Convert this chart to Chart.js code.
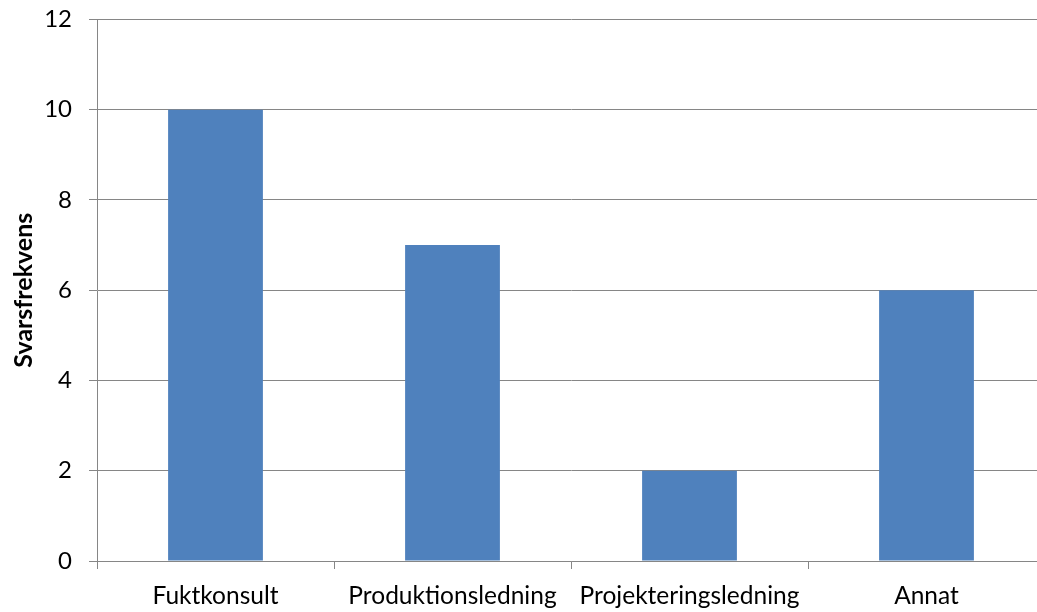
<!DOCTYPE html>
<html><head><meta charset="utf-8">
<script src="https://cdn.jsdelivr.net/npm/chart.js@4/dist/chart.umd.min.js"></script>
<style>
html,body{margin:0;padding:0;background:#fff;overflow:hidden;}
#wrap{width:1045px;height:624px;position:absolute;left:0;top:-12px;}
</style></head>
<body>
<div id="wrap"><canvas id="c"></canvas></div>
<script>
const categories = ["Fuktkonsult", "Produktionsledning", "Projekteringsledning", "Annat"];
const values = [10, 7, 2, 6];
const yTitle = "Svarsfrekvens";

const FONT = "Lato, 'Open Sans', sans-serif";
const GRID = "#868686";

new Chart(document.getElementById('c'), {
  type: 'bar',
  data: {
    labels: categories,
    datasets: [{
      data: values,
      backgroundColor: '#4F81BD',
      borderWidth: 0,
      barPercentage: 0.4,
      categoryPercentage: 1.0
    }]
  },
  options: {
    responsive: true,
    maintainAspectRatio: false,
    animation: false,
    layout: { padding: { left: 0, right: 0, top: 3, bottom: 0 } },
    plugins: { legend: { display: false }, tooltip: { enabled: false } },
    scales: {
      x: {
        grid: { display: true, offset: true, drawOnChartArea: false, color: GRID, tickLength: 8, lineWidth: 1 },
        border: { display: true, color: GRID, width: 1 },
        ticks: { color: '#000', font: { family: FONT, size: 24.5 }, padding: 12, maxRotation: 0, autoSkip: false },
        afterFit: s => { s.height = 51; }
      },
      y: {
        min: 0, max: 12,
        ticks: { stepSize: 2, color: '#000', font: { family: FONT, size: 24 }, padding: 17 },
        grid: { color: GRID, tickLength: 8, lineWidth: 1 },
        border: { display: true, color: GRID, width: 1 },
        title: { display: true, text: yTitle, color: '#000', font: { family: FONT, size: 25, weight: 'bold' }, padding: { top: 9, bottom: 0 } },
        afterFit: s => { s.width = 97; }
      }
    }
  }
});
</script>
</body></html>
